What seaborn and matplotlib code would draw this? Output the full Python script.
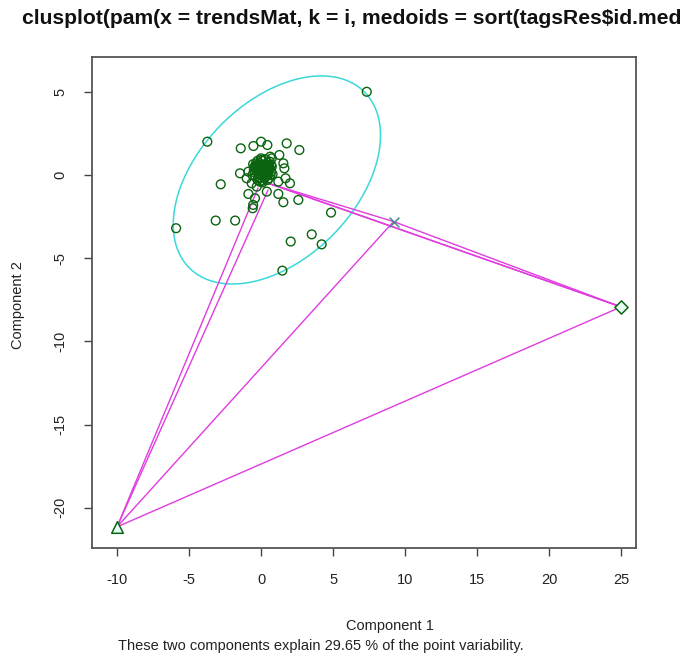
import numpy as np
import pandas as pd
import matplotlib
matplotlib.use("Agg")
import matplotlib.pyplot as plt
import seaborn as sns

sns.set_style("white")
plt.rcParams["font.family"] = ["Liberation Sans", "DejaVu Sans"]

# Observations in the plane of the first two principal components
pts_x = [7.34, -3.73, -1.41, -0.53, 0.0, 0.44, 1.78, 2.66, 1.27, 0.63,
         1.55, 1.62, -0.88, -1.0, -1.46, -2.8, 2.01, 1.2, -0.65, -0.3,
         0.4, 1.2, -0.88, -0.42, 1.55, 2.59, -0.58, 4.86, -3.15, -1.8,
         -5.9, 3.52, 2.06, 4.21, 1.48, 0.74, -0.55, 1.7]
pts_y = [5.0, 2.0, 1.6, 1.74, 2.0, 1.8, 1.9, 1.5, 1.2, 1.1,
         0.7, 0.4, 0.2, -0.2, 0.1, -0.56, -0.5, -0.4, -0.5, -0.7,
         -1.0, -1.14, -1.14, -1.4, -1.64, -1.5, -2.0, -2.26, -2.74, -2.74,
         -3.2, -3.57, -4.0, -4.17, -5.75, 1.0, -1.8, -0.2]

# Dense core of the main cluster
core_x = [0.15, -0.3, 0.5, -0.1, 0.3, -0.45, 0.6, 0.0, 0.25, -0.2,
          0.4, 0.1, -0.35, 0.55, -0.05, 0.2, 0.35, -0.25, 0.05, 0.45,
          -0.4, 0.7, -0.15, 0.3, 0.1, -0.5, 0.65, 0.0, 0.2, -0.3,
          0.4, 0.15, -0.1, 0.5, 0.25, -0.2, 0.05, 0.35, -0.05, 0.6,
          -0.6, 0.75, -0.55, 0.8, 0.0, 0.1, -0.25, 0.45, 0.3, -0.4,
          0.6, -0.1, 0.2, 0.5, -0.35, 0.05, 0.7, -0.5, 0.25, 0.15,
          0.12, 0.22, 0.08, 0.18, 0.28, -0.02, 0.38, 0.02, 0.32, -0.12,
          0.1, 0.2, 0.3, 0.0, -0.15, 0.45, 0.15, 0.25, -0.05, 0.35]
core_y = [0.25, 0.5, 0.1, 0.7, -0.1, 0.15, 0.45, 0.0, 0.6, -0.15,
          0.3, 0.85, 0.4, -0.2, 0.35, 0.1, 0.65, -0.3, 0.5, 0.75,
          0.55, 0.2, 0.05, 0.4, -0.35, 0.3, 0.0, 0.9, 0.3, 0.2,
          -0.05, 0.45, 0.6, 0.55, 0.15, 0.35, 0.2, 0.3, -0.2, 0.35,
          0.0, 0.5, 0.65, 0.05, 1.0, -0.45, 0.85, -0.3, 0.95, -0.1,
          0.8, -0.4, 0.05, 0.25, 0.7, 0.55, 0.6, 0.45, -0.2, 0.4,
          0.3, 0.2, 0.4, 0.35, 0.25, 0.3, 0.2, 0.45, 0.4, 0.25,
          0.15, 0.5, 0.1, 0.2, 0.45, 0.4, 0.55, 0.3, 0.1, 0.15]

# Singleton clusters
tri_x, tri_y = [-10.0], [-21.15]
cross_x, cross_y = [9.2], [-2.8]
dia_x, dia_y = [25.0], [-7.93]

# Spanning ellipse of the main cluster
ell_center = [1.1, -0.3]
ell_cov = [[51.8, 19.3], [19.3, 39.1]]

# Segments joining the clusters
seg_x0 = [0.42, 0.42, 0.69, 9.2, -0.21, 0.49, 9.2, 25.0]
seg_y0 = [-0.48, -0.48, -0.54, -2.8, -0.78, -0.9, -2.8, -7.93]
seg_x1 = [9.2, 25.0, 25.0, 25.0, -10.0, -10.0, -10.0, -10.0]
seg_y1 = [-2.8, -7.93, -7.93, -7.93, -21.15, -21.15, -21.15, -21.15]

title = "clusplot(pam(x = trendsMat, k = i, medoids = sort(tagsRes\\$id.med"
xlabel = "Component 1"
ylabel = "Component 2"
subtitle = "These two components explain 29.65 % of the point variability."
xticks = [-10, -5, 0, 5, 10, 15, 20, 25]
yticks = [5, 0, -5, -10, -15, -20]

W, H = 695, 662
fig = plt.figure(figsize=(W / 100, H / 100), dpi=100)
L, R, T, B = 92, 636, 57, 548
ax = fig.add_axes([L / W, 1 - B / H, (R - L) / W, (B - T) / H])

green = "#0b6410"
magenta = "#e03ce0"
cyan = "#3ad8d8"

# ellipse
t = np.linspace(0, 2 * np.pi, 300)
chol = np.linalg.cholesky(np.array(ell_cov))
ell = np.array(ell_center)[:, None] + chol @ np.vstack([np.cos(t), np.sin(t)])
ax.plot(ell[0], ell[1], color=cyan, lw=1.1, zorder=2)

# connecting segments
seg_df = pd.DataFrame({
    "x": seg_x0 + seg_x1,
    "y": seg_y0 + seg_y1,
    "seg": list(range(len(seg_x0))) * 2,
})
sns.lineplot(data=seg_df, x="x", y="y", units="seg", estimator=None,
             sort=False, color=magenta, lw=1.0, ax=ax, zorder=3)

# points
sns.scatterplot(x=pts_x + core_x, y=pts_y + core_y, marker="o", s=40,
                facecolor="none", edgecolor=green, linewidth=1.0, ax=ax, zorder=4)
sns.scatterplot(x=tri_x, y=tri_y, marker="^", s=70, facecolor="#e6fff6",
                edgecolor=green, linewidth=1.1, ax=ax, zorder=5)
sns.scatterplot(x=dia_x, y=dia_y, marker="D", s=45, facecolor="#e6fff6",
                edgecolor=green, linewidth=1.1, ax=ax, zorder=5)
sns.scatterplot(x=cross_x, y=cross_y, marker="x", s=50, color="#4a8a8a",
                linewidth=1.1, ax=ax, zorder=5)

ax.set_xlim(-11.74, 26.04)
ax.set_ylim(-22.42, 7.09)
ax.set_xticks(xticks)
ax.set_yticks(yticks)
ax.set_xticklabels([str(v) for v in xticks])
ax.set_yticklabels([str(v) for v in yticks], rotation=90, va="center")
ax.tick_params(axis="both", bottom=True, left=True, length=6, width=1,
               color="#444444", pad=12, labelsize=10.5,
               labelcolor="#222222", direction="out")
for side in ax.spines.values():
    side.set_color("#555555")
    side.set_linewidth(1.3)

ax.set_xlabel(xlabel, fontsize=10.5, color="#222222")
ax.xaxis.set_label_coords((390 - L) / (R - L), (B - 626) / (B - T))
ax.xaxis.label.set_va("center")
ax.set_ylabel(ylabel, fontsize=10.5, color="#222222")
ax.yaxis.set_label_coords((18 - L) / (R - L), (B - 305) / (B - T))
ax.yaxis.label.set_va("center")

fig.text(321 / W, 1 - 646 / H, subtitle, ha="center", va="center",
         fontsize=10.5, color="#222222")
fig.text(22 / W, 1 - 19 / H, title, ha="left", va="center",
         fontsize=15.2, fontweight="bold", color="#111111")

fig.savefig("out.png", dpi=100)
